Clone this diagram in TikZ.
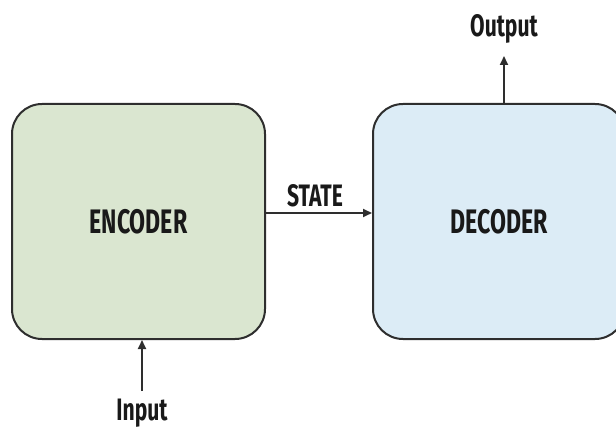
\documentclass[tikz,border=0pt]{standalone}
\usepackage{fontspec}
\setmainfont{Fira Sans}[FakeStretch=0.68]
\usetikzlibrary{arrows.meta}
\definecolor{encfill}{HTML}{DAE6D0}
\definecolor{decfill}{HTML}{DCECF6}
\definecolor{edge}{HTML}{2E2E2E}
\tikzset{
  blk/.style={draw=edge, line width=2pt, rounded corners=30pt, inner sep=0pt,
    font=\fontsize{34}{38}\selectfont\bfseries, text=black!90},
  lbl/.style={inner sep=0pt, font=\fontsize{31}{34}\selectfont\bfseries, text=black!90},
  conn/.style={draw=edge, line width=1.8pt, -{Triangle[length=9pt,width=8pt]}}
}
\begin{document}
\begin{tikzpicture}[x=1pt,y=1pt]
\useasboundingbox (0,0) rectangle (616,429);
\clip (0,0) rectangle (616,429);
\node[blk, fill=encfill, minimum width=253pt, minimum height=235pt] (enc) at (138.5,207.5) {ENCODER};
\node[blk, fill=decfill, minimum width=252pt, minimum height=235pt] (dec) at (499,207.5) {DECODER};
\node[lbl] (state) at (315,233) {STATE};
\node[lbl] (out) at (504,400) {Output};
\node[lbl] (in) at (142,16) {Input};
\coordinate (sy) at (0,216);
\coordinate (outtip) at (504,373);
\coordinate (inbase) at (142,38);
\draw[conn] (enc.east |- sy) -- (dec.west |- sy);
\draw[conn] (dec.north -| outtip) -- (outtip);
\draw[conn] (inbase) -- (enc.south -| inbase);
\end{tikzpicture}
\end{document}
